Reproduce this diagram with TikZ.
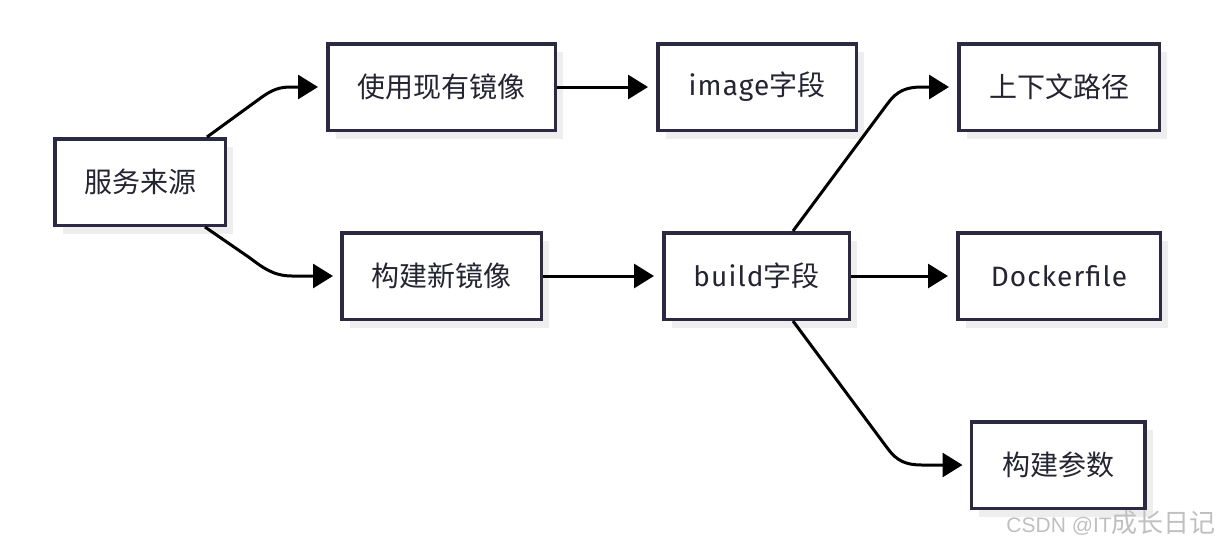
\documentclass[tikz,border=0pt]{standalone}
\usepackage{fontspec}
\setmainfont[LetterSpace=4]{Fira Sans}
\newfontfamily\cjk{Noto Sans CJK SC}
\newfontfamily\wmlatin{Liberation Sans}
\usetikzlibrary{arrows.meta,shadows,calc}
\definecolor{bordc}{RGB}{44,42,66}
\definecolor{txtc}{RGB}{36,36,50}
\definecolor{shadc}{RGB}{238,238,238}
\definecolor{wmc}{RGB}{192,192,192}
\begin{document}
\begin{tikzpicture}[x=1pt,y=-1pt,
  box/.style={draw=bordc, line width=3.5pt, fill=white, inner sep=0pt,
    minimum height=86.5pt, text=txtc, font=\fontsize{28}{32}\selectfont,
    drop shadow={shadow xshift=8pt, shadow yshift=-8.5pt, fill=shadc, opacity=1}},
  arr/.style={line width=3pt, draw=black, -{Triangle[length=20pt,width=24pt]}}]
\fill[white] (0,0) rectangle (1220,542);
\useasboundingbox (0,0) rectangle (1220,542);

% nodes
\node[box, minimum width=170.5pt] (A) at (140,182)    {\cjk 服务来源};
\node[box, minimum width=227.5pt] (B) at (441.5,87)   {\cjk 使用现有镜像};
\node[box, minimum width=199.5pt] (C) at (441.5,276)  {\cjk 构建新镜像};
\node[box, minimum width=198.5pt] (D) at (757,87)     {image{\cjk 字段}};
\node[box, minimum width=185.5pt] (E) at (756.5,276)  {build{\cjk 字段}};
\node[box, minimum width=200.5pt] (F) at (1059,87)    {\cjk 上下文路径};
\node[box, minimum width=202.5pt] (G) at (1059,276)   {Dockerfile};
\node[box, minimum width=173.5pt] (H) at (1058,465)   {\cjk 构建参数};

% straight connectors
\draw[arr] (B.east) -- ($(D.west)+(-8pt,0pt)$);
\draw[arr] (C.east) -- ($(E.west)+(-8pt,0pt)$);
\draw[arr] (E.east) -- ($(G.west)+(-8pt,0pt)$);

% curved connectors
\draw[arr] ($(A.north east)+(-20pt,0pt)$) -- (262,97)
  .. controls (272,90) and (279,87) .. (291,87) -- ($(B.west)+(-8pt,0pt)$);
\draw[arr] ($(A.south east)+(-22pt,0pt)$) -- (250,258)
  .. controls (262,267) and (273,276) .. (292,276) -- ($(C.west)+(-7pt,0pt)$);
\draw[arr] ($(E.north)+(36.5pt,0pt)$) -- (888,103)
  .. controls (897,91) and (906,87) .. (922,87) -- ($(F.west)+(-8pt,0pt)$);
\draw[arr] ($(E.south)+(36.5pt,0pt)$) -- (888,449)
  .. controls (897,461) and (906,465) .. (922,465) -- ($(H.west)+(-7pt,0pt)$);

% watermark
\node[anchor=east, text=wmc, inner sep=0pt] (wm) at (1216,523)
  {\fontsize{21}{24}\selectfont\wmlatin CSDN @IT\cjk\fontsize{26}{28}\selectfont 成长日记};
\end{tikzpicture}
\end{document}
